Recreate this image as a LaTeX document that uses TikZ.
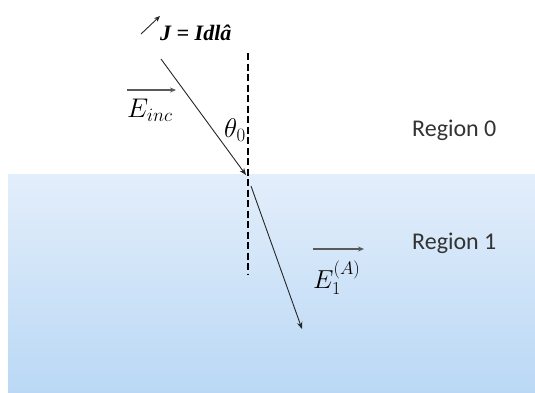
\RequirePackage{fix-cm}
\documentclass[tikz,border=0pt]{standalone}
\usepackage{amsmath,amssymb}
\usepackage{fontspec}
\setmainfont{Carlito}
\newfontfamily\jfont{Liberation Serif}
\usetikzlibrary{arrows.meta}
\definecolor{regtext}{HTML}{333333}
\definecolor{bluetop}{HTML}{E3EEFB}
\definecolor{bluebot}{HTML}{BAD8F5}
\begin{document}
\begin{tikzpicture}[x=1pt,y=-1pt,
  ray/.style={draw=black!85,line width=0.9pt,-{Stealth[length=7pt,width=5.5pt]}},
  vecbar/.style={draw=black!65,line width=1.6pt,-{Stealth[length=6pt,width=5pt]}},
  normal/.style={draw=black,line width=2pt,dash pattern=on 7pt off 3.5pt},
  reglabel/.style={anchor=base west,inner sep=0pt,text=regtext,font=\fontsize{24}{28}\selectfont},
  mathlabel/.style={anchor=base west,inner sep=0pt,text=black}]
\useasboundingbox (0,0) rectangle (535,392);
% lower region
\shade[top color=bluetop,bottom color=bluebot] (8,174) rectangle (535,392);
% normal
\coordinate (ntop) at (248,53);
\coordinate (nbot) at (248,275);
\draw[normal] (ntop) -- (nbot);
% incident ray
\coordinate (src) at (161,59);
\coordinate (hit) at (246,175);
\draw[ray] (src) -- (hit);
% transmitted ray
\coordinate (tstart) at (251,186);
\coordinate (tend) at (302,329);
\draw[ray] (tstart) -- (tend);
% source arrow
\coordinate (ja) at (141,34);
\coordinate (jb) at (160,16);
\draw[draw=black!85,line width=0.9pt,-{Stealth[length=6pt,width=5pt]}] (ja) -- (jb);
% labels
\node[mathlabel,font=\jfont\bfseries\itshape\fontsize{22}{24}\selectfont] (jlab) at (160,40) {J = Idlâ};
\node[mathlabel,font=\fontsize{27}{30}\selectfont] (einc) at (127,117) {$E_{inc}$};
\coordinate (eia) at (127,90);
\coordinate (eib) at (176,90);
\draw[vecbar] (eia) -- (eib);
\node[mathlabel,font=\fontsize{27}{30}\selectfont] (theta) at (224,137) {$\theta_0$};
\node[mathlabel,font=\fontsize{26}{30}\selectfont] (eone) at (313,288) {$E_1^{(A)}$};
\coordinate (e1a) at (313,249);
\coordinate (e1b) at (364,249);
\draw[vecbar] (e1a) -- (e1b);
\node[reglabel] (r0) at (412,136) {Region 0};
\node[reglabel] (r1) at (412,249) {Region 1};
\end{tikzpicture}
\end{document}
